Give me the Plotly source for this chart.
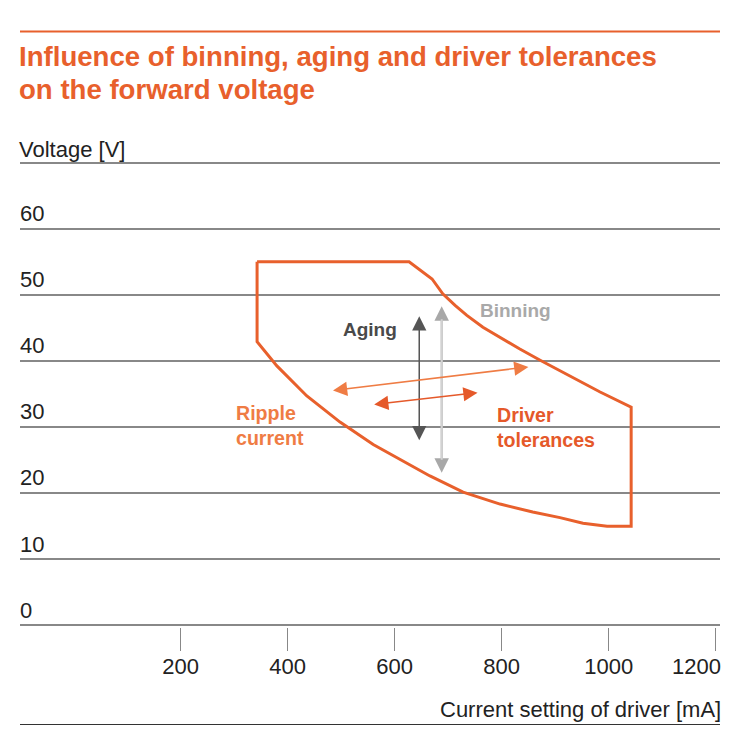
import plotly.graph_objects as go

# ---- data ----
x_tick_values = [200, 400, 600, 800, 1000, 1200]
x_tick_labels = ["200", "400", "600", "800", "1000", ""]
y_tick_values = [0, 10, 20, 30, 40, 50, 60, 70]
y_tick_labels = ["0", "10", "20", "30", "40", "50", "60", ""]

# operating envelope (current mA, voltage V), clockwise from top-left
upper_current = [343, 627, 670, 690, 713, 735, 765, 797, 834, 872, 922, 984, 1042]
upper_voltage = [55, 55, 52.4, 50.15, 48.4, 46.9, 45.1, 43.55, 41.8, 40.1, 37.9, 35.3, 33.0]
lower_current = [1042, 997, 952, 909, 858, 797, 728, 666, 610, 560, 498, 436, 380, 343]
lower_voltage = [15.0, 15.0, 15.45, 16.3, 17.15, 18.35, 20.15, 22.6, 25.15, 27.35, 30.75,
                 34.7, 39.25, 42.9]

aging_current = [646, 646]
aging_voltage = [47.0, 28.0]
binning_current = [688, 688]
binning_voltage = [48.5, 23.1]
driver_outer_current = [482, 850]
driver_outer_voltage = [35.5, 39.1]
driver_inner_current = [559, 755]
driver_inner_voltage = [33.4, 35.2]

ORANGE = "#E8602C"
ORANGE_LIGHT = "#EF7C44"
ORANGE_DARK = "#E5592A"
DARK = "#4a4a4a"
GREY = "#a9a9a9"
GRID = "#888888"
TEXT = "#222222"
FONT = "Liberation Sans, Arial, sans-serif"

# ---- page geometry (the html body has an 8px margin) ----
PAGE_OFF = 8
FIG_W, FIG_H = 744 - 2 * PAGE_OFF, 747 - 2 * PAGE_OFF
Y_RANGE = [-0.25, 70.25]
PX_PER_V = 6.6
PLOT_TOP = 163 - (Y_RANGE[1] - 70) * PX_PER_V          # page px
PLOT_BOTTOM = 625 + (0 - Y_RANGE[0]) * PX_PER_V         # page px
PLOT_H = PLOT_BOTTOM - PLOT_TOP
PLOT_LEFT, PLOT_RIGHT = 20, 720


def py(page_y):
    return (PLOT_BOTTOM - page_y) / PLOT_H


env_x = upper_current + lower_current + [upper_current[0]]
env_y = upper_voltage + lower_voltage + [upper_voltage[0]]

fig = go.Figure()
fig.add_trace(go.Scatter(
    x=env_x, y=env_y, mode="lines",
    line=dict(color=ORANGE, width=3), hoverinfo="skip"))


def double_arrow(cx, cy, color, width, size):
    return dict(
        x=cx[1], y=cy[1], ax=cx[0], ay=cy[0],
        xref="x", yref="y", axref="x", ayref="y",
        text="", showarrow=True, arrowhead=2, startarrowhead=2,
        arrowside="end+start", arrowsize=size, startarrowsize=size,
        arrowwidth=width, arrowcolor=color, standoff=0, startstandoff=0)


annotations = []
annotations.append(double_arrow(aging_current, aging_voltage, "#555555", 1.5, 1.9))
annotations.append(double_arrow(binning_current, binning_voltage, "#a8a8a8", 2, 1.45))
shaft = double_arrow(binning_current, binning_voltage, "#d2d2d2", 2, 1.45)
shaft.update(arrowside="none", standoff=13, startstandoff=13)
annotations.append(shaft)
annotations.append(double_arrow(driver_outer_current, driver_outer_voltage, ORANGE_LIGHT, 1.5, 1.9))
annotations.append(double_arrow(driver_inner_current, driver_inner_voltage, ORANGE_DARK, 1.5, 1.9))

# text labels
annotations += [
    dict(x=554, y=44.8, xref="x", yref="y", text="<b>Aging</b>", showarrow=False,
         font=dict(family=FONT, size=19, color=DARK), xanchor="center", yanchor="middle"),
    dict(x=759, y=47.6, xref="x", yref="y", text="<b>Binning</b>", showarrow=False,
         font=dict(family=FONT, size=19, color=GREY), xanchor="left", yanchor="middle",
         xshift=-2),
    dict(x=303, y=30.2, xref="x", yref="y", text="<b>Ripple<br>current</b>", showarrow=False,
         font=dict(family=FONT, size=19.6, color=ORANGE_LIGHT), xanchor="left",
         yanchor="middle", align="left", xshift=-2),
    dict(x=791, y=29.9, xref="x", yref="y", text="<b>Driver<br>tolerances</b>", showarrow=False,
         font=dict(family=FONT, size=19.6, color=ORANGE_DARK), xanchor="left",
         yanchor="middle", align="left", xshift=-2),
    # title
    dict(x=0, y=py(57), xref="paper", yref="paper",
         text="<b>Influence of binning, aging and driver tolerances</b>", showarrow=False,
         font=dict(family=FONT, size=27.6, color=ORANGE), xanchor="left", yanchor="middle",
         xshift=-3),
    dict(x=0, y=py(90), xref="paper", yref="paper",
         text="<b>on the forward voltage</b>", showarrow=False,
         font=dict(family=FONT, size=27.6, color=ORANGE), xanchor="left", yanchor="middle",
         xshift=-3),
    # axis titles
    dict(x=0, y=py(150), xref="paper", yref="paper", text="Voltage [V]",
         showarrow=False, font=dict(family=FONT, size=22, color=TEXT),
         xanchor="left", yanchor="middle", xshift=-3),
    dict(x=1, y=py(709), xref="paper", yref="paper",
         text="Current setting of driver [mA]", showarrow=False,
         font=dict(family=FONT, size=22, color=TEXT), xanchor="right", yanchor="middle",
         xshift=3),
    dict(x=1, y=py(666), xref="paper", yref="paper", text="1200",
         showarrow=False, font=dict(family=FONT, size=22, color=TEXT),
         xanchor="right", yanchor="middle", xshift=3),
]

shapes = [
    dict(type="line", xref="paper", yref="paper", x0=0, x1=1,
         y0=py(32), y1=py(32), line=dict(color=ORANGE, width=2)),
    dict(type="line", xref="paper", yref="paper", x0=0, x1=1,
         y0=py(724), y1=py(724), line=dict(color="#333333", width=1.2)),
]

fig.update_layout(
    width=FIG_W, height=FIG_H,
    margin=dict(l=PLOT_LEFT - PAGE_OFF, r=FIG_W - (PLOT_RIGHT - PAGE_OFF),
                t=PLOT_TOP - PAGE_OFF, b=FIG_H - (PLOT_BOTTOM - PAGE_OFF), pad=0),
    paper_bgcolor="white", plot_bgcolor="white",
    showlegend=False,
    annotations=annotations, shapes=shapes,
    xaxis=dict(range=[-100, 1208], tickmode="array", tickvals=x_tick_values,
               ticktext=x_tick_labels, ticks="outside", ticklen=23, tickwidth=1.2,
               tickcolor="#888888", showgrid=False, zeroline=False, showline=False,
               ticklabelstandoff=-3,
               tickfont=dict(family=FONT, size=22, color=TEXT), fixedrange=True),
    yaxis=dict(range=Y_RANGE, tickmode="array", tickvals=y_tick_values,
               ticktext=y_tick_labels, ticks="", showgrid=True, gridcolor=GRID,
               gridwidth=1.5, zeroline=False, showline=False,
               ticklabelposition="inside top", ticklabelstandoff=-3,
               tickfont=dict(family=FONT, size=22, color=TEXT), fixedrange=True),
)

fig.write_html("out.html")
